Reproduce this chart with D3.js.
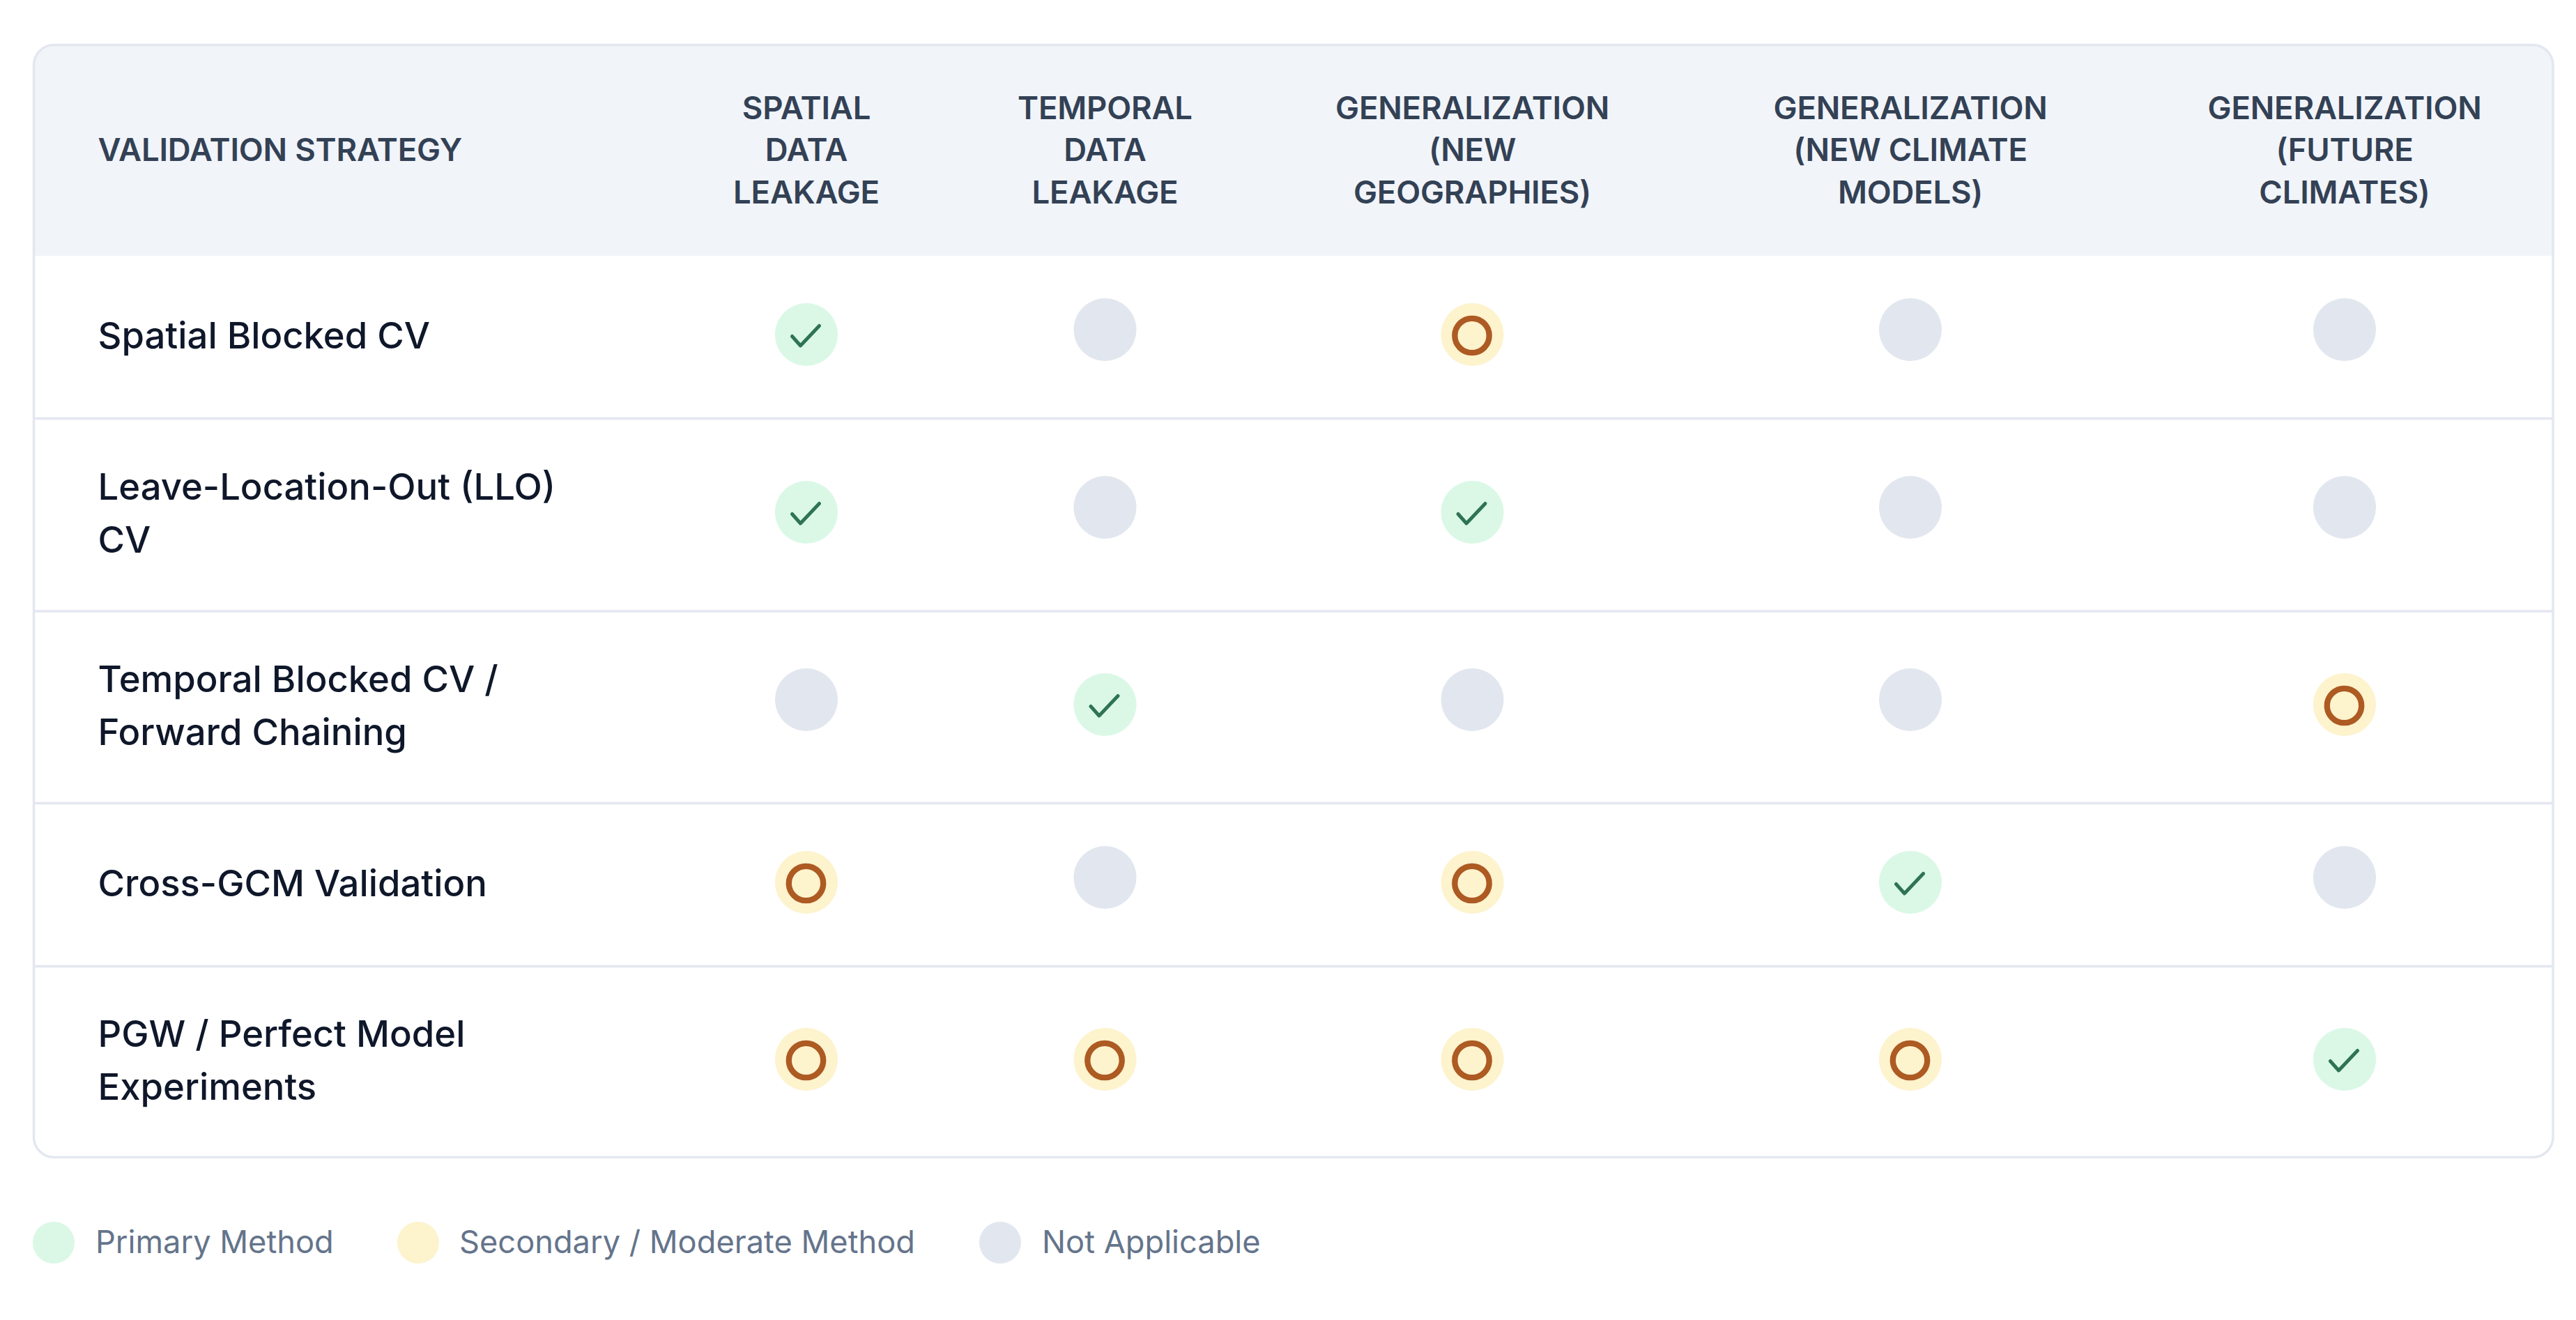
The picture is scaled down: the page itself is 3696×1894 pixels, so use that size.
<!DOCTYPE html>
<html>
<head>
<meta charset="utf-8">
<title>Validation strategies</title>
<script src="https://cdn.jsdelivr.net/npm/d3@7"></script>
<style>
  html, body { margin: 0; padding: 0; background: #fff; }
  svg { display: block; }
  text { font-family: Inter, sans-serif; }
</style>
</head>
<body>
<svg id="chart"></svg>
<script>
/*** DATA ***/
const columns = ['spatial', 'temporal', 'geo', 'gcm', 'future'];
const columnLabels = [
  ['SPATIAL', 'DATA', 'LEAKAGE'],
  ['TEMPORAL', 'DATA', 'LEAKAGE'],
  ['GENERALIZATION', '(NEW', 'GEOGRAPHIES)'],
  ['GENERALIZATION', '(NEW CLIMATE', 'MODELS)'],
  ['GENERALIZATION', '(FUTURE', 'CLIMATES)']
];
const firstColumnLabel = 'VALIDATION STRATEGY';
const strategies = ['slo', 'llo', 'temporal', 'gcm', 'pgw'];
const strategyLabels = [
  ['Spatial Blocked CV'],
  ['Leave-Location-Out (LLO)', 'CV'],
  ['Temporal Blocked CV /', 'Forward Chaining'],
  ['Cross-GCM Validation'],
  ['PGW / Perfect Model', 'Experiments']
];
// p = primary, s = secondary, n = not applicable
const spatialBlocked = ['p', 'n', 's', 'n', 'n'];
const leaveLocationOut = ['p', 'n', 'p', 'n', 'n'];
const temporalBlocked = ['n', 'p', 'n', 'n', 's'];
const crossGcm = ['s', 'n', 's', 'p', 'n'];
const pgwPerfect = ['s', 's', 's', 's', 'p'];
const ratings = [spatialBlocked, leaveLocationOut, temporalBlocked, crossGcm, pgwPerfect];

const legendKeys = ['p', 's', 'n'];
const legendLabels = ['Primary Method', 'Secondary / Moderate Method', 'Not Applicable'];

/*** LAYOUT ***/
const WIDTH = 3696;
const HEIGHT = 1894;
const table = { left: 48.5, right: 3663, top: 64.5, bottom: 1660.5, radius: 29 };
const HEADER_BOTTOM = 367;
const rowLines = [600.5, 877, 1152.5, 1386.5];
const TEXT_X = 140.5;

const xCol = d3.scaleOrdinal().domain(columns).range([1157, 1585.5, 2112.5, 2741, 3364]);
const yRow = d3.scaleOrdinal().domain(strategies).range([480, 735, 1011, 1266, 1520]);
const fillOf = d3.scaleOrdinal().domain(legendKeys).range(['#dbf8e7', '#fdf3cd', '#e2e7ef']);
const xLegend = d3.scaleOrdinal().domain(legendKeys).range([77, 600, 1435]);
const xLegendText = d3.scaleOrdinal().domain(legendKeys).range([137, 659, 1495]);

const svg = d3.select('#chart')
  .attr('width', WIDTH)
  .attr('height', HEIGHT)
  .attr('viewBox', `0 0 ${WIDTH} ${HEIGHT}`);

svg.append('clipPath').attr('id', 'card')
  .append('rect')
  .attr('x', table.left).attr('y', table.top)
  .attr('width', table.right - table.left)
  .attr('height', table.bottom - table.top)
  .attr('rx', table.radius);

svg.append('rect')
  .attr('clip-path', 'url(#card)')
  .attr('x', table.left).attr('y', table.top)
  .attr('width', table.right - table.left)
  .attr('height', HEADER_BOTTOM - table.top)
  .attr('fill', '#f1f4f9');

svg.selectAll('.row-line')
  .data(rowLines)
  .join('line')
  .attr('class', 'row-line')
  .attr('x1', table.left).attr('x2', table.right)
  .attr('y1', d => d).attr('y2', d => d)
  .attr('stroke', '#e3e7f0')
  .attr('stroke-width', 3.5);

svg.append('rect')
  .attr('x', table.left).attr('y', table.top)
  .attr('width', table.right - table.left)
  .attr('height', table.bottom - table.top)
  .attr('rx', table.radius)
  .attr('fill', 'none')
  .attr('stroke', '#e3e7f0')
  .attr('stroke-width', 3.5);

/*** HEADER ***/
const HEADER_FONT = 45.5;
const HEADER_SPACING = -0.2;
const HEADER_LINE = 60.5;

svg.append('text')
  .attr('x', TEXT_X).attr('y', 231)
  .attr('font-size', HEADER_FONT)
  .attr('font-weight', 600)
  .attr('letter-spacing', HEADER_SPACING)
  .attr('fill', '#334155')
  .text(firstColumnLabel);

svg.selectAll('.col-label')
  .data(columns)
  .join('text')
  .attr('class', 'col-label')
  .attr('text-anchor', 'middle')
  .attr('font-size', HEADER_FONT)
  .attr('font-weight', 600)
  .attr('letter-spacing', HEADER_SPACING)
  .attr('fill', '#334155')
  .each(function (d, i) {
    d3.select(this).selectAll('tspan')
      .data(columnLabels[i])
      .join('tspan')
      .attr('x', xCol(d))
      .attr('y', (line, j) => 170.5 + j * HEADER_LINE)
      .text(line => line);
  });

/*** ROW LABELS ***/
const ROW_LINE = 75.5;
svg.selectAll('.row-label')
  .data(strategies)
  .join('text')
  .attr('class', 'row-label')
  .attr('font-size', 52.6)
  .attr('font-weight', 500)
  .attr('fill', '#0f172a')
  .each(function (d, i) {
    const lines = strategyLabels[i];
    d3.select(this).selectAll('tspan')
      .data(lines)
      .join('tspan')
      .attr('x', TEXT_X)
      .attr('y', (line, j) => yRow(d) + 20 + (j - (lines.length - 1) / 2) * ROW_LINE)
      .text(line => line);
  });

/*** CELLS ***/
const checkLine = d3.line();
const CHECK_ICON = [[-20.5, 2.5], [-8.5, 16], [18.5, -12.5]];
const GRAY_LIFT = 7;   // the empty badges sit a little higher than the others

const cells = svg.selectAll('.row')
  .data(strategies)
  .join('g')
  .attr('class', 'row')
  .selectAll('g')
  .data((d, i) => ratings[i].map((rating, j) => ({ rating, col: columns[j], row: d })))
  .join('g')
  .attr('transform', d => `translate(${xCol(d.col)},${yRow(d.row) - (d.rating === 'n' ? GRAY_LIFT : 0)})`);

cells.append('circle')
  .attr('r', 45)
  .attr('fill', d => fillOf(d.rating));

cells.filter(d => d.rating === 'p').append('path')
  .attr('d', checkLine(CHECK_ICON))
  .attr('fill', 'none')
  .attr('stroke', '#2f7355')
  .attr('stroke-width', 5)
  .attr('stroke-linecap', 'round')
  .attr('stroke-linejoin', 'round');

// the ring glyph sits slightly off the badge centre
cells.filter(d => d.rating === 's').append('circle')
  .attr('cx', -0.5)
  .attr('cy', 1.5)
  .attr('r', 24.7)
  .attr('fill', 'none')
  .attr('stroke', '#ad5a23')
  .attr('stroke-width', 8.3);

/*** LEGEND ***/
const LEGEND_Y = 1783;
const legendItems = svg.selectAll('.legend')
  .data(legendKeys)
  .join('g')
  .attr('class', 'legend');

legendItems.append('circle')
  .attr('cx', d => xLegend(d))
  .attr('cy', LEGEND_Y)
  .attr('r', 30)
  .attr('fill', d => fillOf(d));

legendItems.append('text')
  .attr('x', d => xLegendText(d))
  .attr('y', LEGEND_Y + 15)
  .attr('font-size', 45.2)
  .attr('fill', '#64748b')
  .text((d, i) => legendLabels[i]);
</script>
</body>
</html>
